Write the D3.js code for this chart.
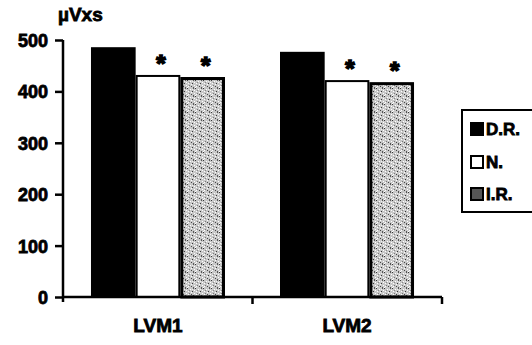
<!DOCTYPE html>
<html>
<head>
<meta charset="utf-8">
<script src="https://cdn.jsdelivr.net/npm/d3@7"></script>
<style>
  html, body { margin: 0; padding: 0; background: #fff; }
  svg { display: block; }
  text { font-family: "Liberation Sans", Arial, sans-serif; font-weight: bold; fill: #000;
         stroke: #000; stroke-width: 0.8px; paint-order: stroke; }
</style>
</head>
<body>
<svg id="chart" width="532" height="345"></svg>
<script>
// Integrated EMG activity per muscle and condition (µV·s)
const categories = ["LVM1", "LVM2"];
const seriesNames = ["D.R.", "N.", "I.R."];
const drValues = [486, 477];
const nValues = [432, 422];
const irValues = [428, 418];
const yTicks = [0, 100, 200, 300, 400, 500];
const significant = [[false, true, true], [false, true, true]];

const svg = d3.select("#chart");
const defs = svg.append("defs");

// Stippled grey texture for the I.R. series
const pat = defs.append("pattern")
  .attr("id", "stipple").attr("patternUnits", "userSpaceOnUse")
  .attr("width", 8).attr("height", 8);
pat.append("rect").attr("width", 8).attr("height", 8).attr("fill", "#c8c8c8");
const specks = [[0,0,"#333"],[3,1,"#fff"],[6,0,"#555"],[1,3,"#fff"],[5,3,"#333"],[2,5,"#777"],
                [7,5,"#fff"],[4,6,"#444"],[0,7,"#fff"],[6,7,"#555"],[2,2,"#888"],[4,4,"#fff"],
                [7,2,"#fff"],[1,6,"#fff"],[5,1,"#eee"]];
specks.forEach(([sx, sy, c]) => pat.append("rect").attr("x", sx).attr("y", sy)
  .attr("width", 1).attr("height", 1).attr("fill", c));

const fills = { "D.R.": "#000", "N.": "#fff", "I.R.": "url(#stipple)" };
const values = { "D.R.": drValues, "N.": nValues, "I.R.": irValues };

const plot = { left: 63, right: 442, top: 40, bottom: 297 };

const x0 = d3.scaleBand().domain(categories)
  .range([plot.left, plot.right]).paddingInner(0.291).paddingOuter(0.148);
const x1 = d3.scaleBand().domain(seriesNames).range([0, x0.bandwidth()]).padding(0);
const y = d3.scaleLinear().domain([0, 500]).range([plot.bottom, plot.top]);

// Bars
const groups = svg.append("g").selectAll("g").data(categories).join("g")
  .attr("transform", d => `translate(${x0(d)},0)`);

groups.each(function (cat, ci) {
  const g = d3.select(this);
  seriesNames.forEach((s, si) => {
    const v = values[s][ci];
    const sw = s === "I.R." ? 3 : (s === "N." ? 2 : 0);
    g.append("rect")
      .attr("x", x1(s) + sw / 2)
      .attr("y", y(v) + sw / 2)
      .attr("width", x1.bandwidth() - sw)
      .attr("height", y(0) - y(v) - sw / 2)
      .attr("fill", fills[s])
      .attr("stroke", sw ? "#000" : "none")
      .attr("stroke-width", sw);
    if (significant[ci][si]) {
      g.append("text")
        .attr("x", x1(s) + x1.bandwidth() / 2 + 3)
        .attr("y", y(v) - 3)
        .attr("text-anchor", "middle")
        .attr("font-size", 24)
        .style("stroke-width", "1.6px")
        .text("*");
    }
  });
});

// Y axis
const yAxis = svg.append("g").attr("transform", `translate(${plot.left},0)`)
  .call(d3.axisLeft(y).tickValues(yTicks).tickSize(8).tickPadding(7).tickFormat(d3.format("d")));
yAxis.select(".domain").attr("stroke", "#000").attr("stroke-width", 2.5)
  .attr("d", `M0,${plot.top}V${plot.bottom + 5}`);
yAxis.selectAll(".tick line").attr("stroke", "#000").attr("stroke-width", 2.5);
yAxis.selectAll(".tick text").attr("font-size", 18).attr("font-weight", "bold")
  .attr("font-family", "'Liberation Sans', Arial, sans-serif").attr("fill", "#000")
  .attr("dy", "0.36em");

// X axis with ticks at category boundaries
const xAxisG = svg.append("g");
xAxisG.append("line").attr("x1", plot.left).attr("x2", plot.right)
  .attr("y1", y(0)).attr("y2", y(0)).attr("stroke", "#000").attr("stroke-width", 2.5);
const bounds = [x0(categories[1]) - (x0.step() - x0.bandwidth()) / 2, plot.right];
xAxisG.selectAll("line.tk").data(bounds).join("line").attr("class", "tk")
  .attr("x1", d => d).attr("x2", d => d)
  .attr("y1", y(0)).attr("y2", y(0) + 7)
  .attr("stroke", "#000").attr("stroke-width", 2.5);
xAxisG.selectAll("text").data(categories).join("text")
  .attr("x", d => x0(d) + x0.bandwidth() / 2)
  .attr("y", 332)
  .attr("text-anchor", "middle")
  .attr("font-size", 19)
  .text(d => d);

// Unit label
svg.append("text").attr("x", 58).attr("y", 21).attr("font-size", 19).text("µVxs");

// Legend
const legend = svg.append("g");
legend.append("path")
  .attr("d", "M540,110H462V212H540")
  .attr("fill", "#fff").attr("stroke", "#000").attr("stroke-width", 2);
const rowY = [129, 162, 194];
seriesNames.forEach((s, i) => {
  legend.append("rect")
    .attr("x", 471).attr("y", rowY[i] - 6).attr("width", 12).attr("height", 12)
    .attr("fill", s === "I.R." ? "#555" : fills[s])
    .attr("stroke", "#000").attr("stroke-width", 2);
  legend.append("text")
    .attr("x", 486).attr("y", rowY[i]).attr("dy", "0.36em")
    .attr("font-size", 17)
    .text(s);
});
</script>
</body>
</html>
